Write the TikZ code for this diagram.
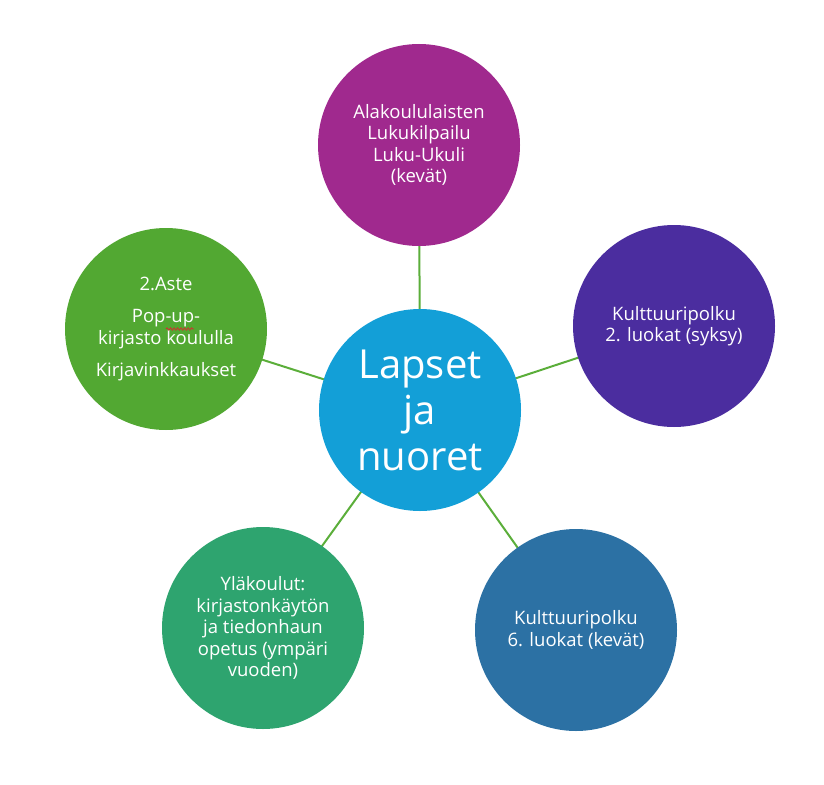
\documentclass[tikz,border=0pt]{standalone}
\usepackage{fontspec}
\setmainfont{Open Sans}
\usetikzlibrary{decorations.pathmorphing}
\definecolor{cCenter}{HTML}{139FD7}
\definecolor{cTop}{HTML}{A0298E}
\definecolor{cRight}{HTML}{4B2D9F}
\definecolor{cBR}{HTML}{2C71A4}
\definecolor{cBL}{HTML}{2EA46F}
\definecolor{cLeft}{HTML}{52A832}
\definecolor{cLine}{HTML}{5BAE3A}
\definecolor{cSquig}{HTML}{D03030}
\tikzset{
  bubble/.style={circle, minimum size=202pt, inner sep=0pt, text=white, align=center,
    font=\fontsize{18.5}{21.5}\selectfont},
  link/.style={draw=cLine, line width=2pt},
  squig/.style={draw=cSquig, line width=0.8pt, decorate,
    decoration={snake, amplitude=1.2pt, segment length=3.5pt}}
}
\begin{document}
\begin{tikzpicture}[x=1pt,y=-1pt]
\useasboundingbox (0,0) rectangle (824,784);
\coordinate (cc) at (420,410);
\coordinate (ct) at (419,145);
\coordinate (cr) at (674,326);
\coordinate (cbr) at (576,630);
\coordinate (cbl) at (263,628);
\coordinate (cl) at (166,329);
\draw[link] (cc) -- (ct);
\draw[link] (cc) -- (cr);
\draw[link] (cc) -- (cbr);
\draw[link] (cc) -- (cbl);
\draw[link] (cc) -- (cl);
\node[bubble, fill=cCenter, font=\fontsize{40}{46}\selectfont] (center) at (cc) {Lapset\\ja\\nuoret};
\node[bubble, fill=cTop] (top) at (ct) {Alakoululaisten\\Lukukilpailu\\Luku-Ukuli\\(kevät)};
\node[bubble, fill=cRight] (right) at (cr) {Kulttuuripolku\\2. luokat (syksy)};
\node[bubble, fill=cBR] (br) at (cbr) {Kulttuuripolku\\6. luokat (kevät)};
\node[bubble, fill=cBL] (bl) at (cbl) {Yläkoulut:\\kirjastonkäytön\\ja tiedonhaun\\opetus (ympäri\\vuoden)};
\node[bubble, fill=cLeft] (left) at (cl) {2.Aste\\[11pt]Pop-up-\\kirjasto koululla\\[11pt]Kirjavinkkaukset};
\coordinate (sqa) at (166,329);
\coordinate (sqb) at (194,329);
\draw[squig] (sqa) -- (sqb);
\end{tikzpicture}
\end{document}
